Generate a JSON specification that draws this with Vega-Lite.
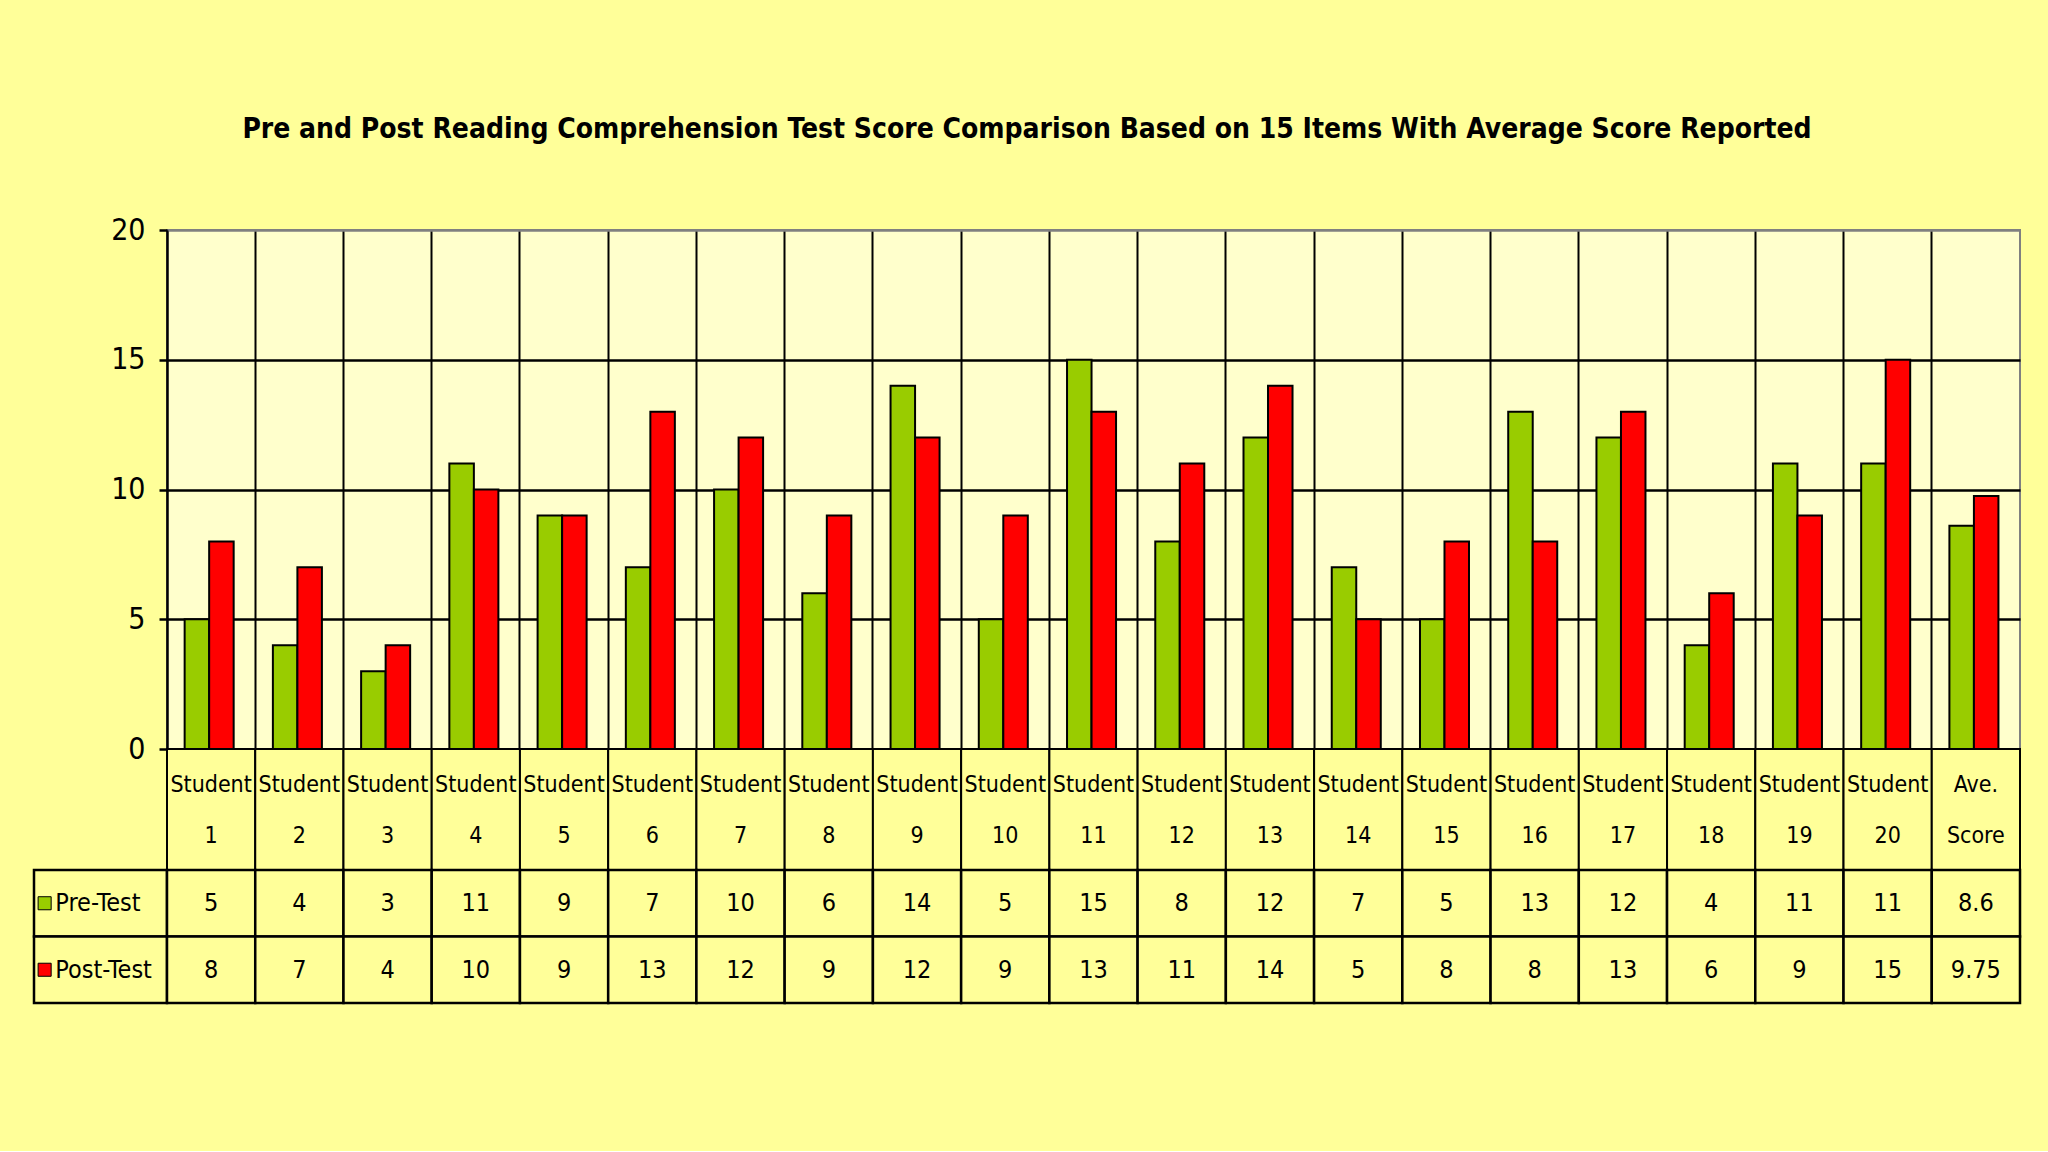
{
  "$schema": "https://vega.github.io/schema/vega-lite/v6.json",
  "background": "#FFFF99",
  "autosize": {"type": "pad"},
  "padding": {"left": 32, "top": 116, "right": 30, "bottom": 146},
  "bounds": "flush",
  "columns": 2,
  "spacing": 0,
  "title": {
    "text": "Pre and Post Reading Comprehension Test Score Comparison Based on 15 Items With Average Score Reported",
    "font": "Liberation Sans Narrow, DejaVu Sans Condensed, Liberation Sans, sans-serif",
    "fontSize": 28,
    "fontWeight": "bold",
    "color": "black",
    "anchor": "middle",
    "offset": 70
  },
  "config": {
    "view": {"stroke": null},
    "font": "Liberation Sans Narrow, DejaVu Sans Condensed, Liberation Sans, sans-serif"
  },
  "datasets": {
    "scores": [
      {"category": "Student 1", "series": "Pre-Test", "score": 5},
      {"category": "Student 2", "series": "Pre-Test", "score": 4},
      {"category": "Student 3", "series": "Pre-Test", "score": 3},
      {"category": "Student 4", "series": "Pre-Test", "score": 11},
      {"category": "Student 5", "series": "Pre-Test", "score": 9},
      {"category": "Student 6", "series": "Pre-Test", "score": 7},
      {"category": "Student 7", "series": "Pre-Test", "score": 10},
      {"category": "Student 8", "series": "Pre-Test", "score": 6},
      {"category": "Student 9", "series": "Pre-Test", "score": 14},
      {"category": "Student 10", "series": "Pre-Test", "score": 5},
      {"category": "Student 11", "series": "Pre-Test", "score": 15},
      {"category": "Student 12", "series": "Pre-Test", "score": 8},
      {"category": "Student 13", "series": "Pre-Test", "score": 12},
      {"category": "Student 14", "series": "Pre-Test", "score": 7},
      {"category": "Student 15", "series": "Pre-Test", "score": 5},
      {"category": "Student 16", "series": "Pre-Test", "score": 13},
      {"category": "Student 17", "series": "Pre-Test", "score": 12},
      {"category": "Student 18", "series": "Pre-Test", "score": 4},
      {"category": "Student 19", "series": "Pre-Test", "score": 11},
      {"category": "Student 20", "series": "Pre-Test", "score": 11},
      {"category": "Ave. Score", "series": "Pre-Test", "score": 8.6},
      {"category": "Student 1", "series": "Post-Test", "score": 8},
      {"category": "Student 2", "series": "Post-Test", "score": 7},
      {"category": "Student 3", "series": "Post-Test", "score": 4},
      {"category": "Student 4", "series": "Post-Test", "score": 10},
      {"category": "Student 5", "series": "Post-Test", "score": 9},
      {"category": "Student 6", "series": "Post-Test", "score": 13},
      {"category": "Student 7", "series": "Post-Test", "score": 12},
      {"category": "Student 8", "series": "Post-Test", "score": 9},
      {"category": "Student 9", "series": "Post-Test", "score": 12},
      {"category": "Student 10", "series": "Post-Test", "score": 9},
      {"category": "Student 11", "series": "Post-Test", "score": 13},
      {"category": "Student 12", "series": "Post-Test", "score": 11},
      {"category": "Student 13", "series": "Post-Test", "score": 14},
      {"category": "Student 14", "series": "Post-Test", "score": 5},
      {"category": "Student 15", "series": "Post-Test", "score": 8},
      {"category": "Student 16", "series": "Post-Test", "score": 8},
      {"category": "Student 17", "series": "Post-Test", "score": 13},
      {"category": "Student 18", "series": "Post-Test", "score": 6},
      {"category": "Student 19", "series": "Post-Test", "score": 9},
      {"category": "Student 20", "series": "Post-Test", "score": 15},
      {"category": "Ave. Score", "series": "Post-Test", "score": 9.75}
    ]
  },
  "concat": [
    {
      "width": 133,
      "height": 519,
      "data": {"values": [{}]},
      "mark": {"type": "text"},
      "encoding": {}
    },
    {
      "width": 1853,
      "height": 519,
      "view": {"fill": "#FFFFCC", "stroke": "#808080", "strokeWidth": 2},
      "data": {"name": "scores"},
      "mark": {"type": "bar", "stroke": "black", "strokeWidth": 2},
      "encoding": {
        "x": {
          "field": "category",
          "type": "nominal",
          "sort": null,
          "scale": {
            "domain": ["Student 1", "Student 2", "Student 3", "Student 4", "Student 5", "Student 6", "Student 7", "Student 8", "Student 9", "Student 10", "Student 11", "Student 12", "Student 13", "Student 14", "Student 15", "Student 16", "Student 17", "Student 18", "Student 19", "Student 20", "Ave. Score"],
            "paddingInner": 0,
            "paddingOuter": 0
          },
          "axis": {
            "title": null,
            "labels": false,
            "ticks": false,
            "domain": false,
            "grid": true,
            "gridColor": "black",
            "gridWidth": 2,
            "bandPosition": 0
          }
        },
        "xOffset": {
          "field": "series",
          "type": "nominal",
          "sort": ["Pre-Test", "Post-Test"],
          "scale": {"paddingOuter": 0.8, "paddingInner": 0, "align": 0.45}
        },
        "y": {
          "field": "score",
          "type": "quantitative",
          "scale": {"domain": [0, 20], "nice": false},
          "axis": {
            "title": null,
            "values": [0, 5, 10, 15, 20],
            "grid": true,
            "gridColor": {"condition": {"test": "datum.value == 20", "value": "#808080"}, "value": "black"},
            "gridWidth": 2.5,
            "domainColor": "black",
            "domainWidth": 2,
            "tickColor": "black",
            "tickWidth": 2.5,
            "tickSize": 8,
            "labelPadding": 14,
            "labelFontSize": 30,
            "labelColor": "black"
          }
        },
        "color": {
          "field": "series",
          "type": "nominal",
          "scale": {"domain": ["Pre-Test", "Post-Test"], "range": ["#99CC00", "#FF0000"]},
          "legend": null
        }
      }
    },
    {
      "width": 133,
      "height": 121,
      "data": {"values": [{}]},
      "mark": {"type": "text"},
      "encoding": {}
    },
    {
      "width": 1853,
      "height": 121,
      "data": {"name": "scores"},
      "transform": [{"filter": "datum.series == 'Pre-Test'"}],
      "encoding": {
        "x": {
          "field": "category",
          "type": "nominal",
          "sort": null,
          "scale": {
            "domain": ["Student 1", "Student 2", "Student 3", "Student 4", "Student 5", "Student 6", "Student 7", "Student 8", "Student 9", "Student 10", "Student 11", "Student 12", "Student 13", "Student 14", "Student 15", "Student 16", "Student 17", "Student 18", "Student 19", "Student 20", "Ave. Score"],
            "paddingInner": 0,
            "paddingOuter": 0
          },
          "axis": null
        }
      },
      "layer": [
        {"mark": {"type": "rect", "fill": "#FFFF99", "stroke": "black", "strokeWidth": 2}},
        {
          "mark": {"type": "text", "lineBreak": " ", "lineHeight": 51, "fontSize": 23, "color": "black", "dy": -25},
          "encoding": {"text": {"field": "category", "type": "nominal"}}
        }
      ]
    },
    {
      "width": 133,
      "height": 133,
      "data": {"name": "scores"},
      "transform": [{"filter": "datum.category == 'Student 1'"}],
      "encoding": {
        "y": {
          "field": "series",
          "type": "nominal",
          "sort": ["Pre-Test", "Post-Test"],
          "scale": {"paddingInner": 0, "paddingOuter": 0},
          "axis": null
        }
      },
      "layer": [
        {"mark": {"type": "rect", "fill": "#FFFF99", "stroke": "black", "strokeWidth": 2.5}},
        {
          "mark": {"type": "point", "shape": "square", "filled": true, "size": 170, "stroke": "black", "strokeWidth": 1, "opacity": 1},
          "encoding": {
            "x": {"datum": 8, "type": "quantitative", "scale": {"domain": [0, 100]}, "axis": null},
            "color": {
              "field": "series",
              "type": "nominal",
              "scale": {"domain": ["Pre-Test", "Post-Test"], "range": ["#99CC00", "#FF0000"]},
              "legend": null
            }
          }
        },
        {
          "mark": {"type": "text", "align": "left", "fontSize": 25, "color": "black"},
          "encoding": {
            "x": {"datum": 16, "type": "quantitative"},
            "text": {"field": "series", "type": "nominal"}
          }
        }
      ]
    },
    {
      "width": 1853,
      "height": 133,
      "data": {"name": "scores"},
      "encoding": {
        "x": {
          "field": "category",
          "type": "nominal",
          "sort": null,
          "scale": {
            "domain": ["Student 1", "Student 2", "Student 3", "Student 4", "Student 5", "Student 6", "Student 7", "Student 8", "Student 9", "Student 10", "Student 11", "Student 12", "Student 13", "Student 14", "Student 15", "Student 16", "Student 17", "Student 18", "Student 19", "Student 20", "Ave. Score"],
            "paddingInner": 0,
            "paddingOuter": 0
          },
          "axis": null
        },
        "y": {
          "field": "series",
          "type": "nominal",
          "sort": ["Pre-Test", "Post-Test"],
          "scale": {"paddingInner": 0, "paddingOuter": 0},
          "axis": null
        }
      },
      "layer": [
        {"mark": {"type": "rect", "fill": "#FFFF99", "stroke": "black", "strokeWidth": 2.5}},
        {
          "mark": {"type": "text", "fontSize": 25, "color": "black"},
          "encoding": {"text": {"field": "score", "type": "quantitative"}}
        }
      ]
    }
  ]
}
